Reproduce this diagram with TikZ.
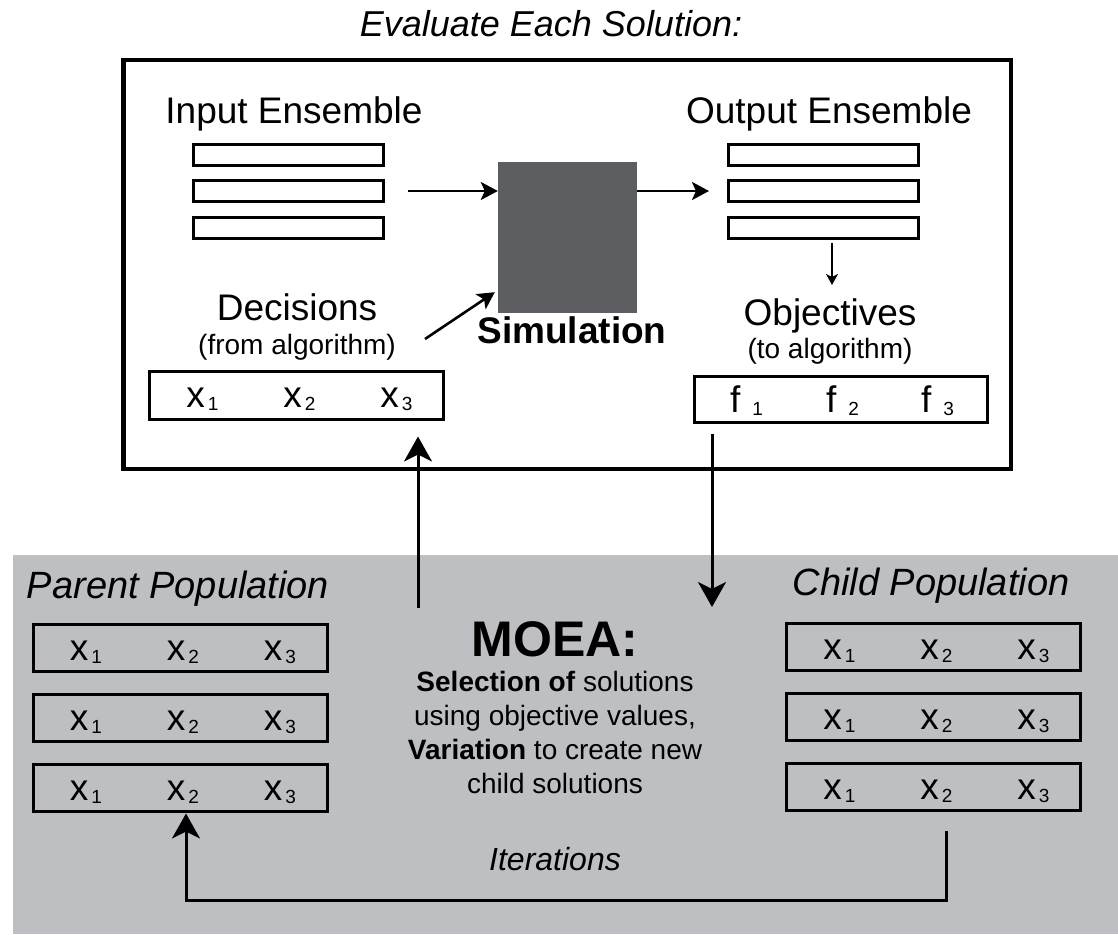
\documentclass[tikz,border=0pt]{standalone}
\usepackage{fontspec}
\setmainfont{Liberation Sans}
\usetikzlibrary{arrows.meta,calc}
\definecolor{bggray}{HTML}{BDBFC2}
\definecolor{simgray}{HTML}{5C5E61}
\newcommand{\fs}[1]{\fontsize{#1}{#1}\selectfont}
\newcommand{\xsub}[3]{#1\kern#3\raisebox{-3pt}{\fs{19}#2}}
\begin{document}
\begin{tikzpicture}[x=1pt,y=-1pt,
  bar/.style={draw, line width=3pt, minimum width=190pt, minimum height=21pt, inner sep=0pt, outer sep=0pt},
  vbox/.style={draw, line width=3pt, minimum width=294pt, minimum height=48pt, inner sep=0pt, outer sep=0pt},
  lbl/.style={anchor=base, inner sep=0pt, font=\fs{37}},
  smallarr/.style={line width=2.6pt, -{Stealth[length=17pt,width=18pt,inset=4pt]}},
  thinarr/.style={line width=1.5pt, -{Stealth[length=11pt,width=12pt,inset=3pt]}},
  bigarr/.style={line width=3pt, -{Stealth[length=25pt,width=28pt,inset=7pt]}}]
\useasboundingbox (0,0) rectangle (1118,934);
\fill[white] (0,0) rectangle (1118,934);
% gray lower region
\fill[bggray] (13,555) rectangle (1118,934);

% title
\node[lbl, font=\itshape\fs{36}] (title) at (551,37) {Evaluate Each Solution:};

% frame
\node[draw, line width=4.5pt, minimum width=887.5pt, minimum height=408.5pt, inner sep=0pt] (frame) at (567,264.5) {};

% ensembles
\node[lbl] (inlbl) at (294,123) {Input Ensemble};
\node[lbl] (outlbl) at (829,123) {Output Ensemble};
\node[bar] (in1) at (288.5,155) {};
\node[bar] (in2) at (288.5,191) {};
\node[bar] (in3) at (288.5,227.5) {};
\node[bar] (out1) at (823,155) {};
\node[bar] (out2) at (823,191) {};
\node[bar] (out3) at (823,227.5) {};

% simulation
\node[fill=simgray, minimum width=139pt, minimum height=151pt, inner sep=0pt] (sim) at (567.5,237.5) {};
\node[lbl, font=\bfseries\fs{37}] (simlbl) at (572,343) {Simulation};

\draw[smallarr] ($(in2.east)+(24,0)$) -- (sim.west |- in2.east);
\draw[smallarr] (sim.east |- out2.west) -- ($(out2.west)+(-19,0)$);
\draw[thinarr] ($(out3.south)+(9,5)$) -- ($(out3.south)+(9,47)$);

% decisions
\node[lbl] (declbl) at (297,320) {Decisions};
\node[lbl, font=\fs{28}] (decsub) at (297,354) {(from algorithm)};
\node[vbox] (dec) at (296.5,395.5) {};
\foreach \o/\s in {53/1,150/2,247/3}
  \node[lbl, name=dec-\s] at ($(dec.west)+(\o,11.5)$) {\xsub{x}{\s}{3pt}};
\coordinate (dstart) at (425,339);
\draw[smallarr] (dstart) -- ($(sim.south west)+(-3,-21)$);

% objectives
\node[lbl] (objlbl) at (830,325) {Objectives};
\node[lbl, font=\fs{28}] (objsub) at (830,358) {(to algorithm)};
\node[vbox, minimum width=293pt, minimum height=46pt] (obj) at (841,399.5) {};
\foreach \o/\s in {52/1,148/2,243/3}
  \node[lbl, name=obj-\s] at ($(obj.west)+(\o,12.5)$) {\xsub{f}{\s}{12pt}};

% links between frame and MOEA
\coordinate (upstart) at (418,608);
\coordinate (downend) at (712,607);
\draw[bigarr, shorten >=17pt] (upstart) -- (upstart |- dec.south);
\draw[bigarr, shorten <=11pt] (downend |- obj.south) -- (downend);

% populations
\node[lbl, font=\itshape\fs{38}] (par) at (178,598) {Parent Population};
\node[lbl, font=\itshape\fs{38}] (chi) at (931,595) {Child Population};
\node[vbox, minimum height=47pt] (p1) at (180,648) {};
\node[vbox, minimum height=47pt] (p2) at (180,718) {};
\node[vbox, minimum height=47pt] (p3) at (180,788) {};
\node[vbox, minimum height=47pt] (c1) at (933.5,647) {};
\node[vbox, minimum height=47pt] (c2) at (933.5,717) {};
\node[vbox, minimum height=47pt] (c3) at (933.5,787) {};
\foreach \b in {p1,p2,p3,c1,c2,c3}
  \foreach \o/\s in {53/1,150/2,247/3}
    \node[lbl, name=\b-\s] at ($(\b.west)+(\o,12)$) {\xsub{x}{\s}{3pt}};

% MOEA text
\node[lbl, font=\bfseries\fs{50}] (moea) at (555,656) {MOEA:};
\node[lbl, font=\fs{28}] (desc1) at (555,691) {\textbf{Selection of} solutions};
\node[lbl, font=\fs{28}] (desc2) at (555,725) {using objective values,};
\node[lbl, font=\fs{28}] (desc3) at (555,759) {\textbf{Variation} to create new};
\node[lbl, font=\fs{28}] (desc4) at (555,793) {child solutions};

% iterations loop
\node[lbl, font=\itshape\fs{32}] (iter) at (555,870) {Iterations};
\coordinate (loopR) at (946,900);
\coordinate (loopL) at (186,900);
\draw[bigarr, shorten <=20pt, shorten >=2pt] (loopR |- c3.south) -- (loopR) -- (loopL) -- (loopL |- p3.south);
\end{tikzpicture}
\end{document}
